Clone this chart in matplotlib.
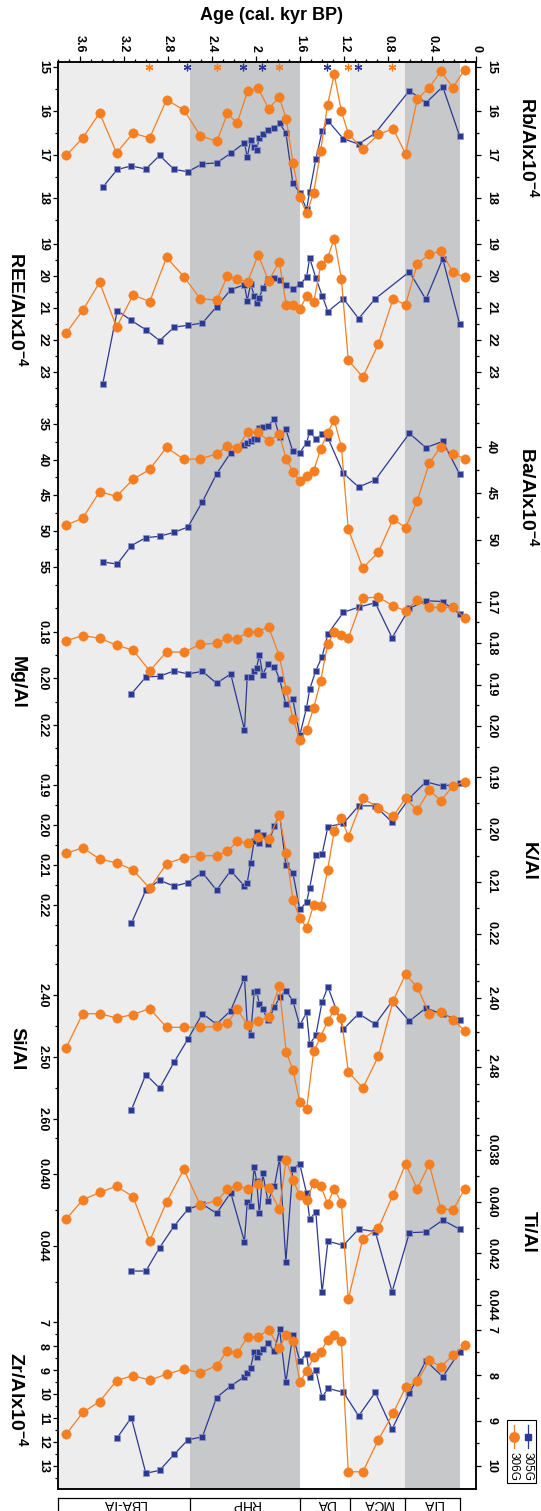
import numpy as np
import matplotlib
matplotlib.use('Agg')
import matplotlib.pyplot as plt
from matplotlib.ticker import FixedLocator, MultipleLocator, FormatStrFormatter
from matplotlib.transforms import blended_transform_factory
from matplotlib.lines import Line2D
from matplotlib.patches import Rectangle

plt.rcParams['font.family'] = ['Liberation Sans', 'DejaVu Sans']
plt.rcParams['mathtext.fontset'] = 'custom'
plt.rcParams['mathtext.rm'] = 'Liberation Sans'
plt.rcParams['mathtext.bf'] = 'Liberation Sans:bold'

nan = np.nan

# sample ages, cal. kyr BP
age_305 = [3.393, 3.261, 3.133, 3.001, 2.876, 2.744, 2.619, 2.487, 2.359, 2.230,
           2.105, 2.080, 2.049, 2.017, 1.995, 1.970, 1.939, 1.892, 1.833, 1.786,
           1.729, 1.666, 1.603, 1.541, 1.513, 1.457, 1.400, 1.347, 1.206, 1.068,
           0.917, 0.764, 0.607, 0.457, 0.304, 0.150]
age_306 = [3.725, 3.574, 3.421, 3.267, 3.117, 2.966, 2.813, 2.656, 2.506, 2.355,
           2.261, 2.171, 2.077, 1.980, 1.886, 1.789, 1.726, 1.664, 1.603, 1.541,
           1.476, 1.413, 1.350, 1.290, 1.225, 1.162, 1.030, 0.889, 0.755, 0.642,
           0.535, 0.426, 0.322, 0.210, 0.106]

# core 305G
rb_305 = [17.745, 17.34, 17.26, 17.33, 17.02, 17.34, 17.39, 17.21, 17.19, 16.97,
          16.73, 17.06, 16.67, 16.83, 16.89, 16.61, 16.52, 16.44, 16.39, 16.29,
          16.50, 17.65, 17.87, 18.25, 17.85, 17.11, 16.47, 16.23, 16.64, 16.76,
          16.51, nan, 15.54, 15.82, 15.45, 16.58]
ree_305 = [23.38, 21.08, 21.39, 21.68, 22.02, 21.60, 21.54, 21.47, 20.96, 20.43,
           20.27, 20.77, 20.25, 20.61, 20.83, 20.68, 20.38, 20.09, 20.07, 20.13,
           20.27, 20.41, 20.26, 20.04, 19.43, 20.06, 20.61, 21.11, 20.71, 21.33,
           20.71, nan, 19.87, 20.73, 19.46, 21.51]
ba_305 = [54.35, 54.64, 52.06, 50.94, 50.75, 50.19, 49.45, 45.90, 42.01, 39.02,
          37.90, 37.66, 37.34, 37.15, 37.15, 35.56, 35.47, 35.23, 34.30, 36.78,
          35.75, 38.83, 39.02, 37.66, 36.08, 37.10, 36.36, 36.96, 41.92, 43.84,
          42.85, nan, 36.31, 38.32, 37.43, 42.06]
mg_305 = [nan, nan, 0.2067, 0.1994, 0.1991, 0.1968, 0.1981, 0.1970, 0.2021, 0.1981,
          0.2221, 0.1994, 0.1994, 0.1968, 0.1954, 0.1900, 0.1984, 0.1938, 0.1950, 0.2004,
          0.2110, 0.2090, 0.2244, 0.2126, 0.2047, 0.1967, 0.1907, 0.1809, 0.1717, 0.1695,
          0.1676, 0.1826, 0.1700, 0.1667, 0.1671, 0.1724]
k_305 = [nan, nan, 0.2246, 0.2163, 0.2138, 0.2153, 0.2144, 0.2119, 0.2163, 0.2114,
         0.2153, 0.2144, 0.2094, 0.2039, 0.2017, 0.2044, 0.2025, 0.2048, 0.2003, 0.1973,
         0.2100, 0.2119, 0.2211, 0.2193, 0.2158, 0.2075, 0.2073, 0.2004, 0.1996, 0.1952,
         0.1952, 0.1993, 0.1933, 0.1892, 0.1903, 0.1896]
si_305 = [nan, nan, 2.585, 2.528, 2.550, 2.508, 2.471, 2.430, 2.447, 2.425,
          2.372, 2.448, 2.465, 2.395, 2.393, 2.415, 2.423, 2.441, 2.420, 2.403,
          2.393, 2.409, 2.449, 2.428, 2.479, 2.465, 2.411, 2.387, 2.455, 2.430,
          2.447, 2.410, 2.442, 2.421, 2.431, 2.441]
ti_305 = [nan, nan, 0.04539, 0.04539, 0.04409, 0.04289, 0.04196, 0.04167, 0.04219, 0.04104,
          0.04376, 0.04156, 0.04176, 0.03963, 0.04037, 0.04219, 0.03996, 0.04152, 0.04067, 0.03913,
          0.04487, 0.03970, 0.03944, 0.04107, 0.04250, 0.04211, 0.04657, 0.04374, 0.04396, 0.04306,
          0.04320, 0.04654, 0.04326, 0.04322, 0.04256, 0.04307]
zr_305 = [nan, 11.81, 10.97, 13.29, 13.17, 12.50, 11.90, 11.77, 10.14, 9.65,
          9.27, 9.10, 8.89, 8.22, 8.46, 8.22, 8.13, 7.85, 8.20, 7.29,
          9.50, 7.53, 8.60, 8.32, 9.27, 8.99, 10.13, 9.75, 9.92, 10.90,
          9.92, 11.45, 9.96, 8.60, 9.27, 8.22]

# core 306G
rb_306 = [17.02, 16.62, 16.05, 16.96, 16.51, 16.62, 15.75, 15.98, 16.57, 16.70,
          16.06, 16.28, 15.55, 15.49, 15.95, 15.69, 16.19, 17.20, 17.97, 18.34,
          17.87, 16.91, 15.86, 15.17, 16.01, 16.52, 16.88, 16.54, 16.41, 16.98,
          15.73, 15.47, 15.10, 15.47, 15.06]
ree_306 = [21.78, 21.07, 20.20, 21.60, 20.59, 20.80, 19.42, 20.02, 20.71, 20.75,
           20.00, 20.10, 20.18, 19.34, 20.16, 19.55, 20.90, 20.90, 21.04, 20.63,
           20.82, 19.67, 19.43, 18.83, 20.08, 22.63, 23.16, 22.13, 20.71, 20.90,
           19.62, 19.32, 19.22, 19.88, 20.04]
ba_306 = [48.43, 47.64, 44.82, 45.32, 43.50, 42.43, 40.07, 41.36, 41.29, 40.78,
          39.89, 40.14, 38.46, 38.46, 39.39, 38.67, 41.32, 42.71, 43.71, 43.14,
          42.57, 40.25, 38.50, 37.14, 40.00, 48.82, 53.00, 51.32, 47.75, 48.68,
          45.79, 41.75, 40.03, 40.75, 41.29]
mg_306 = [0.1794, 0.1782, 0.1788, 0.1805, 0.1817, 0.1867, 0.1821, 0.1822, 0.1803, 0.1800,
          0.1788, 0.1789, 0.1774, 0.1772, 0.1761, 0.1830, 0.1912, 0.1983, 0.2033, 0.2010,
          0.1956, 0.1891, 0.1803, 0.1773, 0.1780, 0.1788, 0.1691, 0.1689, 0.1710, 0.1722,
          0.1696, 0.1714, 0.1714, 0.1713, 0.1739]
k_306 = [0.2046, 0.2035, 0.2057, 0.2064, 0.2078, 0.2113, 0.2066, 0.2054, 0.2051, 0.2050,
         0.2042, 0.2023, 0.2026, 0.2015, 0.2018, 0.1973, 0.2045, 0.2136, 0.2170, 0.2189,
         0.2145, 0.2148, 0.2078, 0.2003, 0.1977, 0.2014, 0.1940, 0.1958, 0.1975, 0.1940,
         0.1963, 0.1924, 0.1945, 0.1916, 0.1909]
si_306 = [2.458, 2.418, 2.418, 2.423, 2.419, 2.412, 2.434, 2.434, 2.434, 2.433,
          2.429, 2.413, 2.431, 2.427, 2.422, 2.386, 2.463, 2.484, 2.522, 2.530,
          2.462, 2.445, 2.427, 2.414, 2.423, 2.486, 2.505, 2.468, 2.403, 2.372,
          2.387, 2.418, 2.416, 2.425, 2.438]
ti_306 = [0.04067, 0.03993, 0.03964, 0.03940, 0.03981, 0.04152, 0.04001, 0.03875, 0.04013, 0.03996,
          0.03952, 0.03938, 0.03952, 0.03933, 0.03948, 0.04028, 0.03839, 0.03916, 0.03974, 0.03995,
          0.03926, 0.03938, 0.04008, 0.03950, 0.04004, 0.04377, 0.04144, 0.04103, 0.03973, 0.03854,
          0.03950, 0.03854, 0.04027, 0.04032, 0.03952]
zr_306 = [9.30, 8.82, 8.58, 8.12, 8.01, 8.11, 7.98, 7.87, 7.95, 7.79,
          7.47, 7.52, 7.16, 7.16, 7.00, 7.41, 7.11, 7.25, 8.16, 7.91,
          7.61, 7.49, 7.23, 7.11, 7.25, 10.12, 10.12, 9.42, 8.84, 8.27,
          8.14, 7.67, 7.82, 7.56, 7.34]

# dated levels (asterisks)
date_305 = [2.625, 2.115, 1.945, 1.357, 1.075]
date_306 = [2.973, 2.359, 1.795, 1.169, 0.764]

# climate periods
period_names = ['LBA-IA', 'RHP', 'DA', 'MCA', 'LIA']
period_edges = [3.8, 2.6, 1.6, 1.15, 0.65, 0.15]
period_shade = ['#ededed', '#c7c8ca', '#ffffff', '#ededed', '#c7c8ca']

age_ticks = [3.6, 3.2, 2.8, 2.4, 2.0, 1.6, 1.2, 0.8, 0.4, 0.0]

BLUE = '#2b3990'
ORANGE = '#f47e20'

SUP = r'x10$^{\mathbf{-4}}$'
panels = [
    dict(name='Rb/Al' + SUP, side='r', d5=rb_305, d6=rb_306,
         yl=(18.767, 14.886), yr=(18.767, 14.886), tl=[15, 16, 17, 18], tr=[15, 16, 17, 18],
         ml=0.5, mr=0.5, fl='%g', fr='%g', ly=148),
    dict(name='REE/Al' + SUP, side='l', d5=ree_305, d6=ree_306,
         yl=(24.031, 18.625), yr=(24.031, 18.625), tl=[19, 20, 21, 22, 23], tr=[19, 20, 21, 22, 23],
         ml=0.5, mr=0.5, fl='%g', fr='%g', ly=310),
    dict(name='Ba/Al' + SUP, side='r', d5=ba_305, d6=ba_306,
         yl=(57.30, 32.335), yr=(54.61, 35.53), tl=[35, 40, 45, 50, 55], tr=[40, 45, 50],
         ml=2.5, mr=2.5, fl='%g', fr='%g', ly=497),
    dict(name='Mg/Al', side='l', d5=mg_305, d6=mg_306,
         yl=(0.23371, 0.15913), yr=(0.20748, 0.16549), tl=[0.18, 0.20, 0.22], tr=[0.17, 0.18, 0.19, 0.20],
         ml=0.01, mr=0.005, fl='%.2f', fr='%.2f', ly=682),
    dict(name='K/Al', side='r', d5=k_305, d6=k_306,
         yl=(0.23125, 0.183), yr=(0.22317, 0.18606), tl=[0.19, 0.20, 0.21, 0.22], tr=[0.19, 0.20, 0.21, 0.22],
         ml=0.005, mr=0.005, fl='%.2f', fr='%.2f', ly=861),
    dict(name='Si/Al', side='l', d5=si_305, d6=si_306,
         yl=(2.6253, 2.3276), yr=(2.56007, 2.34344), tl=[2.40, 2.50, 2.60], tr=[2.40, 2.48],
         ml=0.05, mr=0.02, fl='%.2f', fr='%.2f', ly=1049),
    dict(name='Ti/Al', side='r', d5=ti_305, d6=ti_306,
         yl=(0.047778, 0.037833), yr=(0.044347, 0.037418), tl=[0.040, 0.044], tr=[0.038, 0.040, 0.042, 0.044],
         ml=0.002, mr=0.001, fl='%.3f', fr='%.3f', ly=1232),
    dict(name='Zr/Al' + SUP, side='l', d5=zr_305, d6=zr_306,
         yl=(13.946, 6.654), yr=(10.498, 6.66), tl=[7, 8, 9, 10, 11, 12, 13], tr=[7, 8, 9, 10],
         ml=0.5, mr=0.5, fl='%g', fr='%g', ly=1399),
]

W, H = 541, 1511
fig = plt.figure(figsize=(W / 100, H / 100), dpi=100)


def fx(px):
    return px / W


def fy(py):
    return 1 - py / H


x0, x1 = 57.9, 476.2
bounds = [62, 232, 405, 583, 757, 950, 1135, 1314, 1489]
a5 = np.array(age_305)
a6 = np.array(age_306)
tick_kw = dict(labelsize=9, width=0.9, direction='out')

for i, p in enumerate(panels):
    top, bot = bounds[i], bounds[i + 1]
    ax = fig.add_axes([fx(x0), fy(bot), fx(x1) - fx(x0), (bot - top) / H])
    ax.set_xlim(3.8, 0)
    ax.set_ylim(*p['yl'])
    for j in range(len(period_names)):
        ax.axvspan(period_edges[j], period_edges[j + 1], color=period_shade[j], lw=0, zorder=0)
    axr = ax.twinx()
    axr.set_ylim(*p['yr'])

    d5 = np.array(p['d5'])
    d6 = np.array(p['d6'])
    m5 = ~np.isnan(d5)
    m6 = ~np.isnan(d6)
    ax.plot(a5[m5], d5[m5], color=BLUE, lw=0.9, marker='s', ms=4.6,
            mfc=BLUE, mec='#8d93c8', mew=0.5, zorder=3, clip_on=False)
    axr.plot(a6[m6], d6[m6], color=ORANGE, lw=0.9, marker='o', ms=6.8,
             mfc=ORANGE, mec=ORANGE, mew=0.3, zorder=3, clip_on=False)

    for a in (ax, axr):
        a.spines['top'].set_visible(i == 0)
        a.spines['bottom'].set_visible(i == len(panels) - 1)
        for s in a.spines.values():
            s.set_linewidth(1.1)

    ax.yaxis.set_major_locator(FixedLocator(p['tl']))
    ax.yaxis.set_minor_locator(MultipleLocator(p['ml']))
    ax.yaxis.set_major_formatter(FormatStrFormatter(p['fl']))
    axr.yaxis.set_major_locator(FixedLocator(p['tr']))
    axr.yaxis.set_minor_locator(MultipleLocator(p['mr']))
    axr.yaxis.set_major_formatter(FormatStrFormatter(p['fr']))
    ax.tick_params(axis='y', which='major', length=3.5, pad=3, labelrotation=-90, **tick_kw)
    ax.tick_params(axis='y', which='minor', length=2.2, width=0.9, direction='out')
    axr.tick_params(axis='y', which='major', length=3.5, pad=3, labelrotation=-90, **tick_kw)
    axr.tick_params(axis='y', which='minor', length=2.2, width=0.9, direction='out')
    for lbl in ax.get_yticklabels() + axr.get_yticklabels():
        lbl.set_fontweight('bold')
        lbl.set_va('center')

    if i == 0:
        ax.xaxis.tick_top()
        ax.xaxis.set_major_locator(FixedLocator(age_ticks))
        ax.xaxis.set_minor_locator(MultipleLocator(0.1))
        ax.xaxis.set_major_formatter(FormatStrFormatter('%g'))
        ax.tick_params(axis='x', which='major', length=4, pad=3, labelrotation=-90, **tick_kw)
        ax.tick_params(axis='x', which='minor', length=2.2, width=0.9, direction='out')
        for lbl in ax.get_xticklabels():
            lbl.set_fontweight('bold')
        axr.tick_params(axis='x', which='both', top=False, bottom=False,
                        labeltop=False, labelbottom=False)
        tr = blended_transform_factory(ax.transData, ax.transAxes)
        yy = 1 - (67.0 - top) / (bot - top)
        ax.plot(date_306, [yy] * len(date_306), ls='none', marker=(6, 2, 0), ms=5.5,
                mew=0.9, color=ORANGE, transform=tr, clip_on=False, zorder=4)
        ax.plot(date_305, [yy] * len(date_305), ls='none', marker=(6, 2, 0), ms=5.5,
                mew=0.9, color=BLUE, transform=tr, clip_on=False, zorder=4)
    else:
        ax.tick_params(axis='x', which='both', top=False, bottom=False,
                       labeltop=False, labelbottom=False)
        axr.tick_params(axis='x', which='both', top=False, bottom=False,
                        labeltop=False, labelbottom=False)

    lx = 528 if p['side'] == 'r' else 17
    fig.text(fx(lx), fy(p['ly']), p['name'], rotation=-90, ha='center', va='center',
             fontsize=14, fontweight='bold')

fig.text(fx(272), fy(15), 'Age (cal. kyr BP)', ha='center', va='center',
         fontsize=13, fontweight='bold')

# period boxes along the bottom
axb = fig.add_axes([fx(x0), fy(1520), fx(x1) - fx(x0), 22 / H])
axb.set_xlim(3.8, 0)
axb.set_ylim(0, 1)
axb.axis('off')
axb.plot([period_edges[0], period_edges[-1]], [1, 1], color='black', lw=0.9, clip_on=False)
for e in period_edges:
    axb.plot([e, e], [0, 1], color='black', lw=0.9, clip_on=False)
for j, nm in enumerate(period_names):
    xm = (period_edges[j] + period_edges[j + 1]) / 2
    axb.text(xm, 0.74, nm, rotation=180, ha='center', va='center', fontsize=10)

# legend (rotated)
fig.patches.append(Rectangle((fx(507), fy(1483)), fx(536) - fx(507), (1483 - 1420) / H,
                             transform=fig.transFigure, fill=False, ec='black', lw=0.8))
for lx, col, mk, ms, nm in [(527.6, BLUE, 's', 4.6, '305G'), (513.8, ORANGE, 'o', 6.8, '306G')]:
    fig.lines.append(Line2D([fx(lx), fx(lx)], [fy(1425), fy(1448)], color=col, lw=0.9,
                            transform=fig.transFigure))
    fig.lines.append(Line2D([fx(lx)], [fy(1436.5)], color=col, marker=mk, ms=ms, ls='none',
                            transform=fig.transFigure))
    fig.text(fx(lx), fy(1467), nm, rotation=-90, ha='center', va='center', fontsize=8.5)

fig.savefig('out.png', dpi=100)
